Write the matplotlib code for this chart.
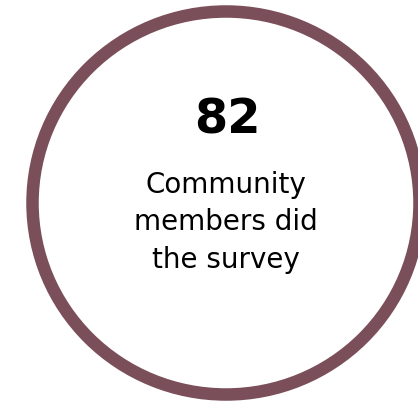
import matplotlib.pyplot as plt
from matplotlib.patches import Ellipse

# figure content
count = 82
caption_lines = ['Community', 'members did', 'the survey']
ring_color = '#7b4f5a'

W, H = 418, 401
fig = plt.figure(figsize=(W / 100, H / 100), dpi=100)
ax = fig.add_axes([0, 0, 1, 1])
ax.set_xlim(0, W)
ax.set_ylim(H, 0)
ax.set_aspect('equal')
ax.axis('off')

# ring (pixel units, slightly wider than tall)
ring = Ellipse((226, 203), 2 * 193.5, 2 * 191.5, facecolor='white',
               edgecolor=ring_color, linewidth=12.5 * 0.72)
ax.add_patch(ring)

# big number
ax.text(227.5, 133, str(count), ha='center', va='baseline', fontsize=34.5,
        fontweight='bold', family='DejaVu Sans', color='black')

# caption, one line at a time
baselines = [193, 230.5, 268]
for line, yb in zip(caption_lines, baselines):
    ax.text(225.5, yb, line, ha='center', va='baseline', fontsize=20,
            family='DejaVu Sans', color='black')

fig.savefig('out.png', dpi=100)
